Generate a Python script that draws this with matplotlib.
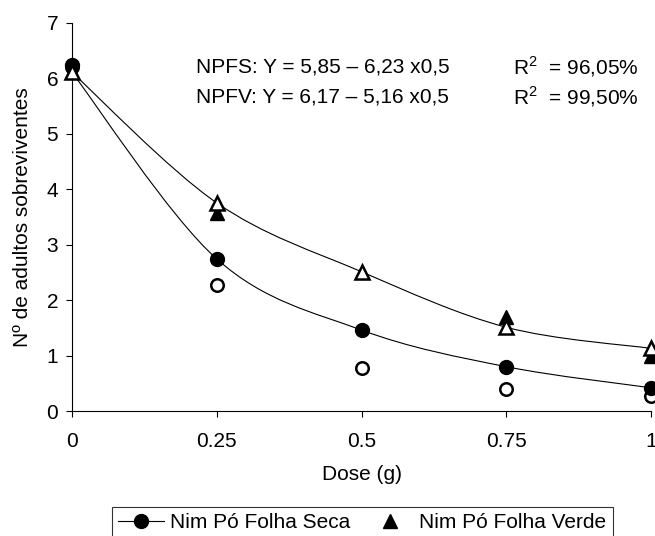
import matplotlib
matplotlib.use("Agg")
import matplotlib.pyplot as plt
from matplotlib.path import Path
from matplotlib.patches import PathPatch
from matplotlib.lines import Line2D

plt.rcParams["font.family"] = ["Liberation Sans", "DejaVu Sans"]
plt.rcParams["font.size"] = 15

doses = [0, 0.25, 0.5, 0.75, 1]
dose_labels = ["0", "0.25", "0.5", "0.75", "1"]

# observed values
seca_filled = [6.23, 2.74, 1.46, 0.80, 0.42]
seca_open = [6.20, 2.27, 0.77, 0.39, 0.27]
verde_filled = [6.10, 3.56, 2.50, 1.70, 1.00]
verde_open = [6.10, 3.75, 2.51, 1.51, 1.13]

# smoothed curves
seca_curve = [6.10, 2.74, 1.46, 0.80, 0.42]
verde_curve = [6.10, 3.75, 2.51, 1.51, 1.13]

eq_lines = ["NPFS: Y = 5,85 \u2013 6,23 x0,5", "NPFV: Y = 6,17 \u2013 5,16 x0,5"]
r2_lines = ["R$^{\\mathregular{2}}$  = 96,05%", "R$^{\\mathregular{2}}$  = 99,50%"]


def smooth_path(xs, ys):
    # Excel-like smoothed line: bezier segments, control points from neighbours
    n = len(xs)
    verts = [(xs[0], ys[0])]
    codes = [Path.MOVETO]
    for i in range(n - 1):
        x0, y0 = xs[max(i - 1, 0)], ys[max(i - 1, 0)]
        x1, y1 = xs[i], ys[i]
        x2, y2 = xs[i + 1], ys[i + 1]
        x3, y3 = xs[min(i + 2, n - 1)], ys[min(i + 2, n - 1)]
        c1 = (x1 + (x2 - x0) / 6, y1 + (y2 - y0) / 6)
        c2 = (x2 - (x3 - x1) / 6, y2 - (y3 - y1) / 6)
        verts += [c1, c2, (x2, y2)]
        codes += [Path.CURVE4] * 3
    return Path(verts, codes)


fig = plt.figure(figsize=(6.55, 5.36), dpi=100)
ax = fig.add_axes([0.110, 0.233, 0.884, 0.725])

for curve in (seca_curve, verde_curve):
    ax.add_patch(PathPatch(smooth_path(doses, curve), fill=False,
                           edgecolor="black", lw=0.8, zorder=2))

ax.plot(doses, seca_open, "o", ms=9, mfc="white", mec="black", mew=1.8,
        ls="none", zorder=3, clip_on=False)
ax.plot(doses, seca_filled, "o", ms=10, color="black", ls="none", zorder=4,
        clip_on=False)
ax.plot(doses, verde_filled, "^", ms=10, color="black", ls="none", zorder=3,
        clip_on=False)
ax.plot(doses, verde_open, "^", ms=10, mfc="white", mec="black", mew=1.8,
        ls="none", zorder=4, clip_on=False)

ax.set_xlim(0, 1)
ax.set_ylim(0, 7)
ax.set_xticks(doses)
ax.set_xticklabels(dose_labels)
ax.set_yticks(range(0, 8))
ax.spines["top"].set_visible(False)
ax.spines["right"].set_visible(False)
for s in ("left", "bottom"):
    ax.spines[s].set_linewidth(0.8)
ax.tick_params(direction="out", length=4, width=0.8, labelsize=15)
ax.tick_params(axis="x", pad=11)
ax.tick_params(axis="y", pad=6)
ax.set_xlabel("Dose (g)", fontsize=15)
ax.set_ylabel("N\u00ba de adultos sobreviventes", fontsize=15)
ax.xaxis.set_label_coords(0.5, -0.162)
ax.xaxis.label.set_va("center")
ax.yaxis.set_label_coords(-0.086, 0.5)
ax.yaxis.label.set_va("center")

for i, (eq, r2) in enumerate(zip(eq_lines, r2_lines)):
    yy = 6.2 - i * 0.54
    ax.text(0.214, yy, eq, fontsize=15, va="center")
    ax.text(0.762, yy, r2, fontsize=15, va="center")

handles = [
    Line2D([], [], color="black", lw=0.8, marker="o", ms=10),
    Line2D([], [], color="black", ls="none", marker="^", ms=10),
]
leg = fig.legend(handles, ["Nim P\u00f3 Folha Seca", "Nim P\u00f3 Folha Verde"],
                 loc="upper left", bbox_to_anchor=(0.171, 0.054), ncol=2,
                 frameon=True, fancybox=False, edgecolor="black", fontsize=15,
                 handlelength=2.2, handletextpad=0.3, columnspacing=0.8,
                 borderpad=0.3, borderaxespad=0)
leg.get_frame().set_linewidth(0.8)

fig.savefig("out.png", dpi=100)
